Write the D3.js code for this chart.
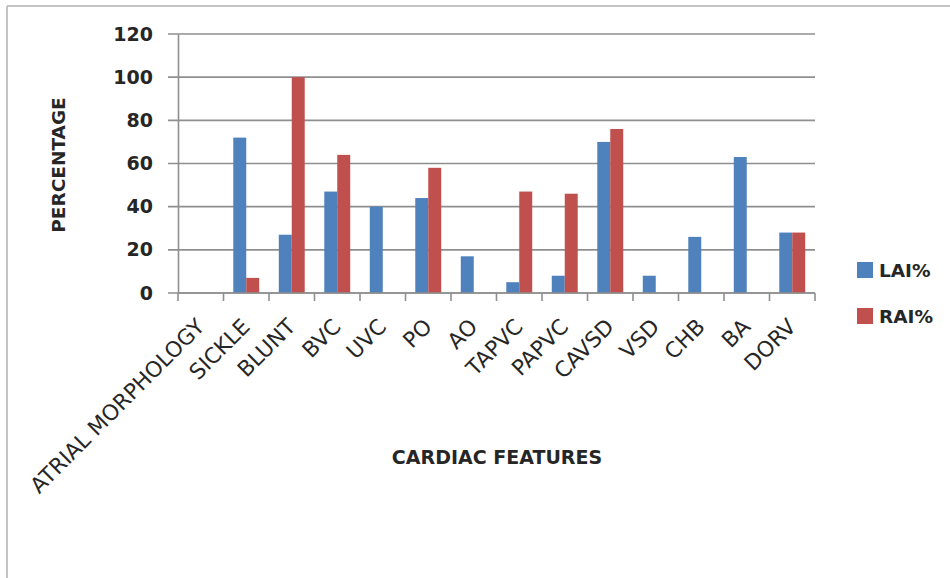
<!DOCTYPE html>
<html>
<head>
<meta charset="utf-8">
<script src="https://cdnjs.cloudflare.com/ajax/libs/d3/7.8.5/d3.min.js"></script>
<style>
  body { margin: 0; background: #fff; }
  text { font-family: "DejaVu Sans", sans-serif; fill: #262626; }
</style>
</head>
<body>
<script>
var categories = ["ATRIAL MORPHOLOGY", "SICKLE", "BLUNT", "BVC", "UVC", "PO", "AO",
                  "TAPVC", "PAPVC", "CAVSD", "VSD", "CHB", "BA", "DORV"];
var lai = [null, 72, 27, 47, 40, 44, 17, 5, 8, 70, 8, 26, 63, 28];
var rai = [null, 7, 100, 64, null, 58, null, 47, 46, 76, null, null, null, 28];
var seriesNames = ["LAI%", "RAI%"];
var seriesColors = ["#4f81bd", "#c0504d"];
var yTicks = [0, 20, 40, 60, 80, 100, 120];

function init(){
    var w = 950;
    var h = 578;
    var left = 178, right = 815, top = 34, bottom = 293;

    var svg = d3.select("body")
                .append("svg")
                .attr("width", w)
                .attr("height", h);

    // frame of the chart area (only top and left edges show)
    svg.append("line").attr("x1", 7).attr("y1", 6).attr("x2", w).attr("y2", 6)
        .attr("stroke", "#c4c4c4").attr("stroke-width", 2);
    svg.append("line").attr("x1", 7).attr("y1", 6).attr("x2", 7).attr("y2", h)
        .attr("stroke", "#c4c4c4").attr("stroke-width", 2);

    var xScale = d3.scaleBand()
                    .domain(categories)
                    .range([left, right])
                    .paddingInner(0.43)
                    .paddingOuter(0.215);

    var xSub = d3.scaleBand()
                    .domain(seriesNames)
                    .range([0, xScale.bandwidth()]);

    var yScale = d3.scaleLinear()
                    .domain([0, 120])
                    .range([bottom, top]);

    // grid lines
    svg.append("g")
        .selectAll("line")
        .data(yTicks)
        .enter()
        .append("line")
        .attr("x1", left - 10)
        .attr("x2", right)
        .attr("y1", function(d){ return yScale(d); })
        .attr("y2", function(d){ return yScale(d); })
        .attr("stroke", "#8f8f8f")
        .attr("stroke-width", 1.6);

    var yAxis = d3.axisLeft()
                .scale(yScale)
                .tickValues(yTicks)
                .tickSize(0)
                .tickPadding(25);

    var gy = svg.append("g")
        .attr("class", "y axis")
        .attr("transform", "translate(" + left + ", 0)")
        .call(yAxis);
    gy.select(".domain").attr("stroke", "#8f8f8f").attr("stroke-width", 1.6);
    gy.selectAll("text")
        .style("font-size", "19px")
        .style("font-weight", "bold")
        .attr("fill", "#333");

    // bars
    var series = [lai, rai];
    series.forEach(function(vals, s){
        svg.append("g")
            .selectAll("rect")
            .data(categories.map(function(c, i){ return {cat: c, v: vals[i]}; })
                            .filter(function(d){ return d.v !== null; }))
            .enter()
            .append("rect")
            .attr("x", function(d){ return xScale(d.cat) + xSub(seriesNames[s]); })
            .attr("y", function(d){ return yScale(d.v); })
            .attr("width", xSub.bandwidth())
            .attr("height", function(d){ return yScale(0) - yScale(d.v); })
            .attr("fill", seriesColors[s]);
    });

    // x axis line and tick marks at category boundaries
    svg.append("line")
        .attr("x1", left).attr("x2", right)
        .attr("y1", bottom).attr("y2", bottom)
        .attr("stroke", "#8f8f8f").attr("stroke-width", 1.6);

    var step = xScale.step();
    var bounds = d3.range(categories.length + 1).map(function(i){ return left + i * step; });
    svg.append("g")
        .selectAll("line")
        .data(bounds)
        .enter()
        .append("line")
        .attr("x1", function(d){ return d; })
        .attr("x2", function(d){ return d; })
        .attr("y1", bottom)
        .attr("y2", bottom + 8)
        .attr("stroke", "#8f8f8f")
        .attr("stroke-width", 1.6);

    // rotated category labels
    svg.append("g")
        .selectAll("text")
        .data(categories)
        .enter()
        .append("text")
        .text(function(d){ return d; })
        .attr("text-anchor", "end")
        .style("font-size", "21.6px")
        .attr("transform", function(d){
            var cx = xScale(d) + xScale.bandwidth() / 2 + 5;
            return "translate(" + cx + "," + 328 + ") rotate(-45)";
        });

    // axis titles
    svg.append("text")
        .text("CARDIAC FEATURES")
        .attr("x", 497)
        .attr("y", 464)
        .attr("text-anchor", "middle")
        .style("font-size", "19px")
        .style("font-weight", "bold");

    svg.append("text")
        .text("PERCENTAGE")
        .attr("text-anchor", "middle")
        .style("font-size", "18.5px")
        .style("font-weight", "bold")
        .attr("transform", "translate(65,165) rotate(-90)");

    // legend
    var legend = svg.append("g")
        .selectAll("g")
        .data(seriesNames)
        .enter()
        .append("g")
        .attr("transform", function(d, i){ return "translate(857," + (262 + i * 46) + ")"; });
    legend.append("rect")
        .attr("width", 16)
        .attr("height", 16)
        .attr("fill", function(d, i){ return seriesColors[i]; });
    legend.append("text")
        .text(function(d){ return d; })
        .attr("x", 22)
        .attr("y", 15)
        .style("font-size", "18.5px")
        .style("font-weight", "bold");
}
window.onload = init;
</script>
</body>
</html>
